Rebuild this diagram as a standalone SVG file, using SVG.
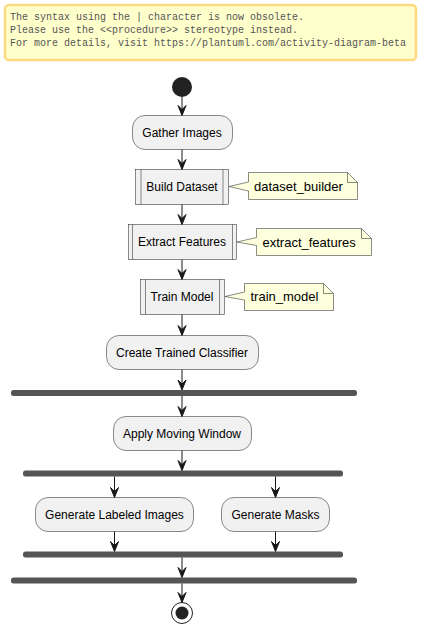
<svg xmlns="http://www.w3.org/2000/svg" width="421" height="635" viewBox="0 0 421 635">
<style>
.act{fill:#F1F1F1;stroke:#181818;stroke-width:0.5}
.note{fill:#FEFFDD;stroke:#181818;stroke-width:0.5}
.fold{fill:none;stroke:#181818;stroke-width:0.5}
.bar{fill:#555555}
.t{font-family:"Liberation Sans",Arial,sans-serif;font-size:12px;fill:#000;text-anchor:middle}
.nt{font-family:"Liberation Sans",Arial,sans-serif;font-size:13px;fill:#000}
.w{font-family:"Liberation Mono","Courier New",monospace;font-size:10px;fill:#555555}
.c{stroke:#181818;stroke-width:1;fill:none}
.ah{fill:#181818;stroke:#181818;stroke-width:1}
</style>
<g id="warning">
<rect x="5" y="5" width="411" height="55" rx="4" fill="#FFFFCC" stroke="#FFD97F" stroke-width="2.5"/>
<text class="w" x="10" y="20">The syntax using the | character is now obsolete.</text>
<text class="w" x="10" y="33">Please use the &lt;&lt;procedure&gt;&gt; stereotype instead.</text>
<text class="w" x="10" y="46">For more details, visit https://plantuml.com/activity-diagram-beta</text>
</g>
<g id="start"><circle cx="182" cy="87" r="10" fill="#222222"/></g>
<g id="gather">
<rect class="act" x="132.5" y="115.5" width="100" height="34" rx="12.5"/>
<text class="t" x="182" y="136.5">Gather Images</text>
</g>
<g id="build">
<rect class="act" x="135.5" y="169.5" width="93" height="35"/>
<line class="fold" x1="141" y1="169.5" x2="141" y2="204.5"/>
<line class="fold" x1="223" y1="169.5" x2="223" y2="204.5"/>
<text class="t" x="182" y="191">Build Dataset</text>
</g>
<g id="note-build">
<path class="note" d="M248.5,172.5 L248.5,182 L229,186.5 L248.5,191 L248.5,199.5 L357.5,199.5 L357.5,182.5 L347.5,172.5 Z"/>
<path class="fold" d="M347.5,172.5 L347.5,182.5 L357.5,182.5"/>
<text class="nt" x="254" y="191">dataset_builder</text>
</g>
<g id="extract">
<rect class="act" x="128.5" y="224.5" width="108" height="35"/>
<line class="fold" x1="132.5" y1="224.5" x2="132.5" y2="259.5"/>
<line class="fold" x1="232.5" y1="224.5" x2="232.5" y2="259.5"/>
<text class="t" x="182" y="246">Extract Features</text>
</g>
<g id="note-extract">
<path class="note" d="M256.5,228.5 L256.5,237.5 L237,242 L256.5,245.5 L256.5,255.5 L371.5,255.5 L371.5,238.5 L361.5,228.5 Z"/>
<path class="fold" d="M361.5,228.5 L361.5,238.5 L371.5,238.5"/>
<text class="nt" x="262.5" y="246.5">extract_features</text>
</g>
<g id="train">
<rect class="act" x="140.5" y="279.5" width="84" height="35"/>
<line class="fold" x1="145.5" y1="279.5" x2="145.5" y2="314.5"/>
<line class="fold" x1="219.5" y1="279.5" x2="219.5" y2="314.5"/>
<text class="t" x="182" y="301">Train Model</text>
</g>
<g id="note-train">
<path class="note" d="M244.5,283.5 L244.5,292 L225,296.5 L244.5,300 L244.5,310.5 L333.5,310.5 L333.5,293.5 L323.5,283.5 Z"/>
<path class="fold" d="M323.5,283.5 L323.5,293.5 L333.5,293.5"/>
<text class="nt" x="250.5" y="301">train_model</text>
</g>
<g id="create">
<rect class="act" x="106.5" y="335.5" width="152" height="34" rx="12.5"/>
<text class="t" x="182" y="356.5">Create Trained Classifier</text>
</g>
<g id="fork1"><rect class="bar" x="11" y="390" width="346" height="6" rx="2.5"/></g>
<g id="apply">
<rect class="act" x="113.5" y="416.5" width="138" height="34" rx="12.5"/>
<text class="t" x="182" y="437.5">Apply Moving Window</text>
</g>
<g id="fork2"><rect class="bar" x="23" y="470.5" width="320" height="6" rx="2.5"/></g>
<g id="labeled">
<rect class="act" x="35.5" y="497.5" width="158" height="34" rx="12.5"/>
<text class="t" x="114.5" y="518.5">Generate Labeled Images</text>
</g>
<g id="masks">
<rect class="act" x="221.5" y="497.5" width="108" height="34" rx="12.5"/>
<text class="t" x="275.5" y="518.5">Generate Masks</text>
</g>
<g id="join1"><rect class="bar" x="23" y="551.5" width="320" height="6" rx="2.5"/></g>
<g id="join2"><rect class="bar" x="11" y="577.5" width="346" height="6" rx="2.5"/></g>
<g id="end">
<circle cx="182" cy="613" r="10.5" fill="none" stroke="#222222" stroke-width="1"/>
<circle cx="182" cy="613" r="6.5" fill="#222222"/>
</g>
<g id="connectors">
<line class="c" x1="182" y1="97" x2="182" y2="114"/>
<polygon class="ah" points="178,105.5 182,115.5 186,105.5 182,109.5"/>
<line class="c" x1="182" y1="149.5" x2="182" y2="168"/>
<polygon class="ah" points="178,159.5 182,169.5 186,159.5 182,163.5"/>
<line class="c" x1="182" y1="204.5" x2="182" y2="223"/>
<polygon class="ah" points="178,214.5 182,224.5 186,214.5 182,218.5"/>
<line class="c" x1="182" y1="259.5" x2="182" y2="278"/>
<polygon class="ah" points="178,269.5 182,279.5 186,269.5 182,273.5"/>
<line class="c" x1="182" y1="314.5" x2="182" y2="334"/>
<polygon class="ah" points="178,325.5 182,335.5 186,325.5 182,329.5"/>
<line class="c" x1="182" y1="369.5" x2="182" y2="389"/>
<polygon class="ah" points="178,380 182,390 186,380 182,384"/>
<line class="c" x1="182" y1="396" x2="182" y2="415"/>
<polygon class="ah" points="178,406.5 182,416.5 186,406.5 182,410.5"/>
<line class="c" x1="182" y1="450.5" x2="182" y2="469.5"/>
<polygon class="ah" points="178,460.5 182,470.5 186,460.5 182,464.5"/>
<line class="c" x1="114.5" y1="476.5" x2="114.5" y2="496"/>
<polygon class="ah" points="110.5,487.5 114.5,497.5 118.5,487.5 114.5,491.5"/>
<line class="c" x1="275.5" y1="476.5" x2="275.5" y2="496"/>
<polygon class="ah" points="271.5,487.5 275.5,497.5 279.5,487.5 275.5,491.5"/>
<line class="c" x1="114.5" y1="531.5" x2="114.5" y2="550.5"/>
<polygon class="ah" points="110.5,541.5 114.5,551.5 118.5,541.5 114.5,545.5"/>
<line class="c" x1="275.5" y1="531.5" x2="275.5" y2="550.5"/>
<polygon class="ah" points="271.5,541.5 275.5,551.5 279.5,541.5 275.5,545.5"/>
<line class="c" x1="182" y1="557.5" x2="182" y2="576.5"/>
<polygon class="ah" points="178,567.5 182,577.5 186,567.5 182,571.5"/>
<line class="c" x1="182" y1="583.5" x2="182" y2="601.5"/>
<polygon class="ah" points="178,592.5 182,602.5 186,592.5 182,596.5"/>
</g>
</svg>
